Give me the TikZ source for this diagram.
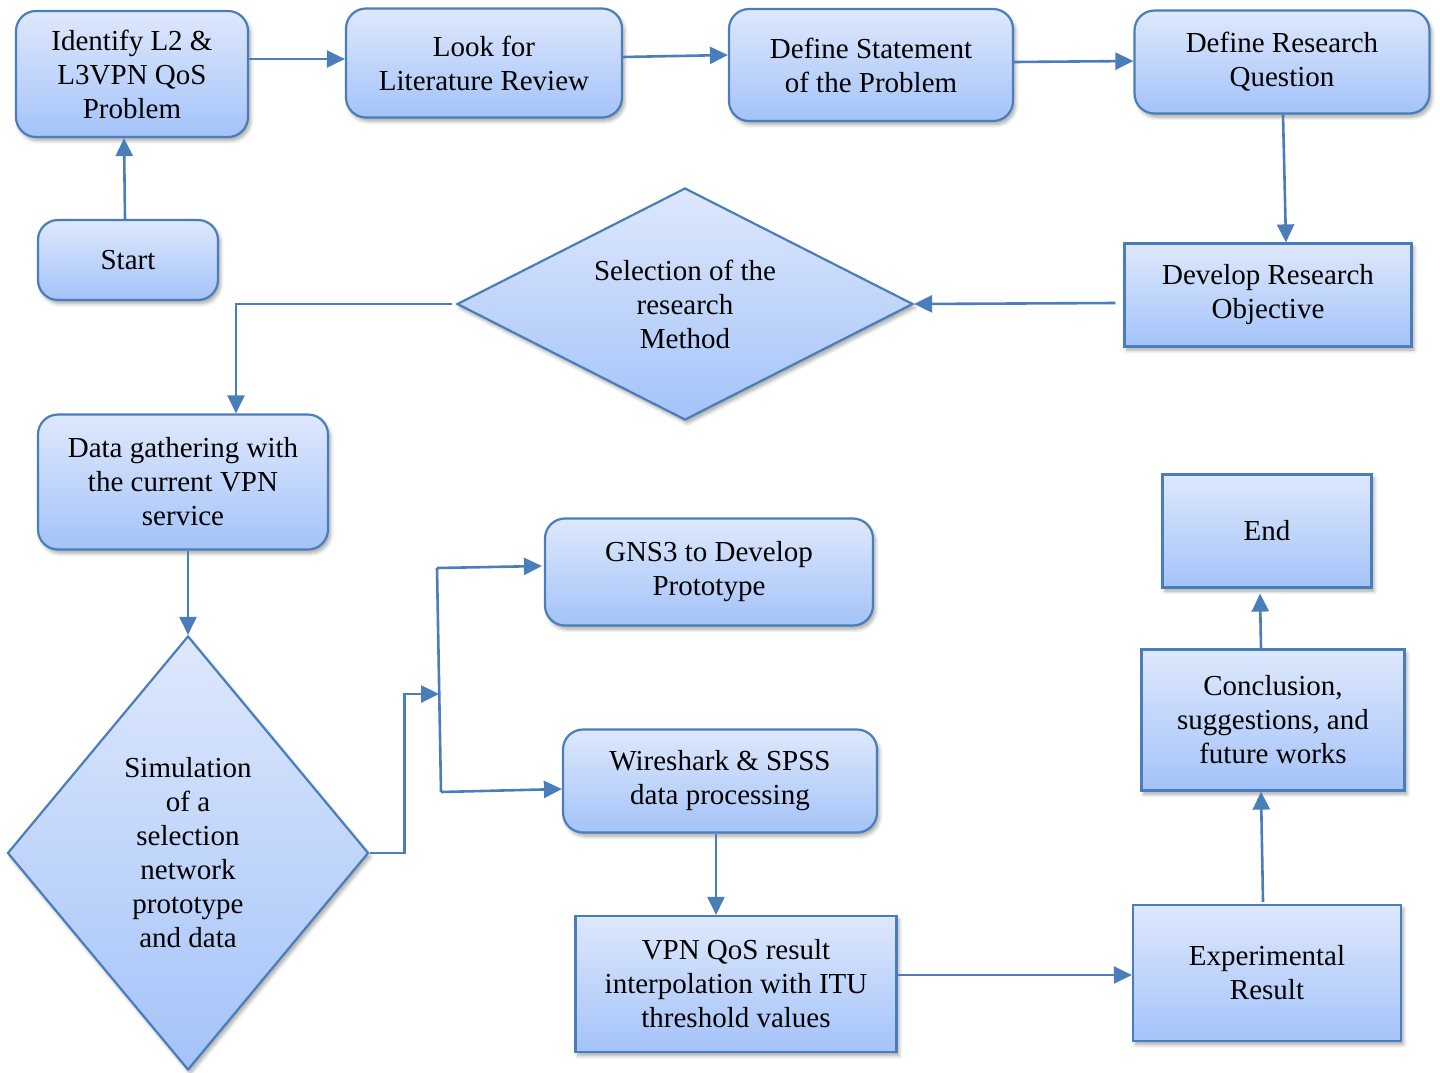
\documentclass[tikz,border=0pt]{standalone}
\usepackage{fontspec}
\setmainfont{Liberation Serif}
\usetikzlibrary{shapes.geometric,shadows.blur,arrows.meta,calc}
\definecolor{edge}{HTML}{4A7EBB}
\definecolor{fillTop}{HTML}{DEE8FC}
\definecolor{fillBot}{HTML}{A4C3F9}
\begin{document}
\begin{tikzpicture}[x=0.5pt,y=-0.5pt,
  base/.style={draw=edge, line width=1.1pt, top color=fillTop, bottom color=fillBot,
    align=center, inner sep=0pt, font=\fontsize{14.5}{17}\selectfont,
    blur shadow={shadow blur steps=6, shadow xshift=1.2pt, shadow yshift=-1.8pt, shadow opacity=35}},
  rbox/.style={base, rectangle, rounded corners=10pt},
  sbox/.style={base, rectangle},
  dia/.style={base, diamond},
  link/.style={draw=edge, line width=1.3pt, -{Triangle[length=9pt,width=8.5pt]}},
  plain/.style={draw=edge, line width=1.3pt}]
\useasboundingbox (0,0) rectangle (1440,1072);

% boxes of the upper row
\node[rbox, minimum width=116pt, minimum height=63pt] (ident) at (132,74) {Identify L2 \&\\L3VPN QoS\\Problem};
\node[rbox, minimum width=138pt, minimum height=54.5pt] (look) at (484,63) {Look for\\Literature Review};
\node[rbox, minimum width=142pt, minimum height=56pt] (stmt) at (871,65) {Define Statement\\of the Problem};
\node[rbox, minimum width=147.5pt, minimum height=51.5pt] (quest) at (1282,62) {Define Research\\Question};
\node[rbox, minimum width=90pt, minimum height=40pt] (start) at (128,260) {Start};

% research method selection
\node[dia, shape aspect=2, minimum width=228pt, minimum height=116pt] (sel) at (685,304) {Selection of the\\research\\Method};
\node[sbox, minimum width=143.5pt, minimum height=51.5pt] (obj) at (1268,295) {Develop Research\\Objective};

% data gathering and simulation
\node[rbox, minimum width=145pt, minimum height=67.5pt] (data) at (183,482) {Data gathering with\\the current VPN\\service};
\node[dia, minimum width=180.5pt, minimum height=217pt] (sim) at (188,853) {Simulation\\of a\\selection\\network\\prototype\\and data};
\node[rbox, minimum width=164pt, minimum height=53.5pt] (gns) at (709,572) {GNS3 to Develop\\Prototype};
\node[rbox, minimum width=157pt, minimum height=51.5pt] (wire) at (720,781) {Wireshark \& SPSS\\data processing};

% results and closing
\node[sbox, minimum width=160.5pt, minimum height=68pt] (vpn) at (736,984) {VPN QoS result\\interpolation with ITU\\threshold values};
\node[sbox, minimum width=134pt, minimum height=68pt] (exp) at (1267,973) {Experimental\\Result};
\node[sbox, minimum width=131.5pt, minimum height=70.5pt] (conc) at (1273,720) {Conclusion,\\suggestions, and\\future works};
\node[sbox, minimum width=104.5pt, minimum height=56.5pt] (fin) at (1267,531) {End};

% branching points
\coordinate (fork) at (439,694);
\coordinate (busTop) at (437,568);
\coordinate (busBot) at (441,792);

% connectors
\draw[link] ([xshift=-1.5pt]start.north) -- ([xshift=-4pt]ident.south);
\draw[link] ([yshift=7.5pt]ident.east) -- ([yshift=2pt]look.west);
\draw[link] ([yshift=3pt]look.east) -- ([yshift=5pt]stmt.west);
\draw[link] ([yshift=1.5pt]stmt.east) -- ([yshift=0.5pt]quest.west);
\draw[link] ([xshift=0.5pt]quest.south) -- ([xshift=9pt]obj.north);
\draw[link] ([xshift=-4pt,yshift=-4pt]obj.west) -- (sel.east);
\draw[link] ([xshift=-2pt]sel.west) -| ([xshift=26.5pt]data.north);
\draw[link] ([xshift=2.5pt]data.south) -- (sim.north);
\draw[link] (sim.east) -- ++(35,0) |- (fork);
\draw[plain] (busTop) -- (busBot);
\draw[link] (busTop) -- ([xshift=-1pt,yshift=3pt]gns.west);
\draw[link] (busBot) -- ([yshift=-4pt]wire.west);
\draw[link] ([xshift=-2pt]wire.south) -- ([xshift=-10pt]vpn.north);
\draw[link] ([yshift=4.5pt]vpn.east) -- ([yshift=-1pt]exp.west);
\draw[link] ([xshift=-2pt,yshift=1pt]exp.north) -- ([xshift=-6pt]conc.south);
\draw[link] ([xshift=-6pt]conc.north) -- ([xshift=-3.5pt,yshift=-2.5pt]fin.south);
\end{tikzpicture}
\end{document}
